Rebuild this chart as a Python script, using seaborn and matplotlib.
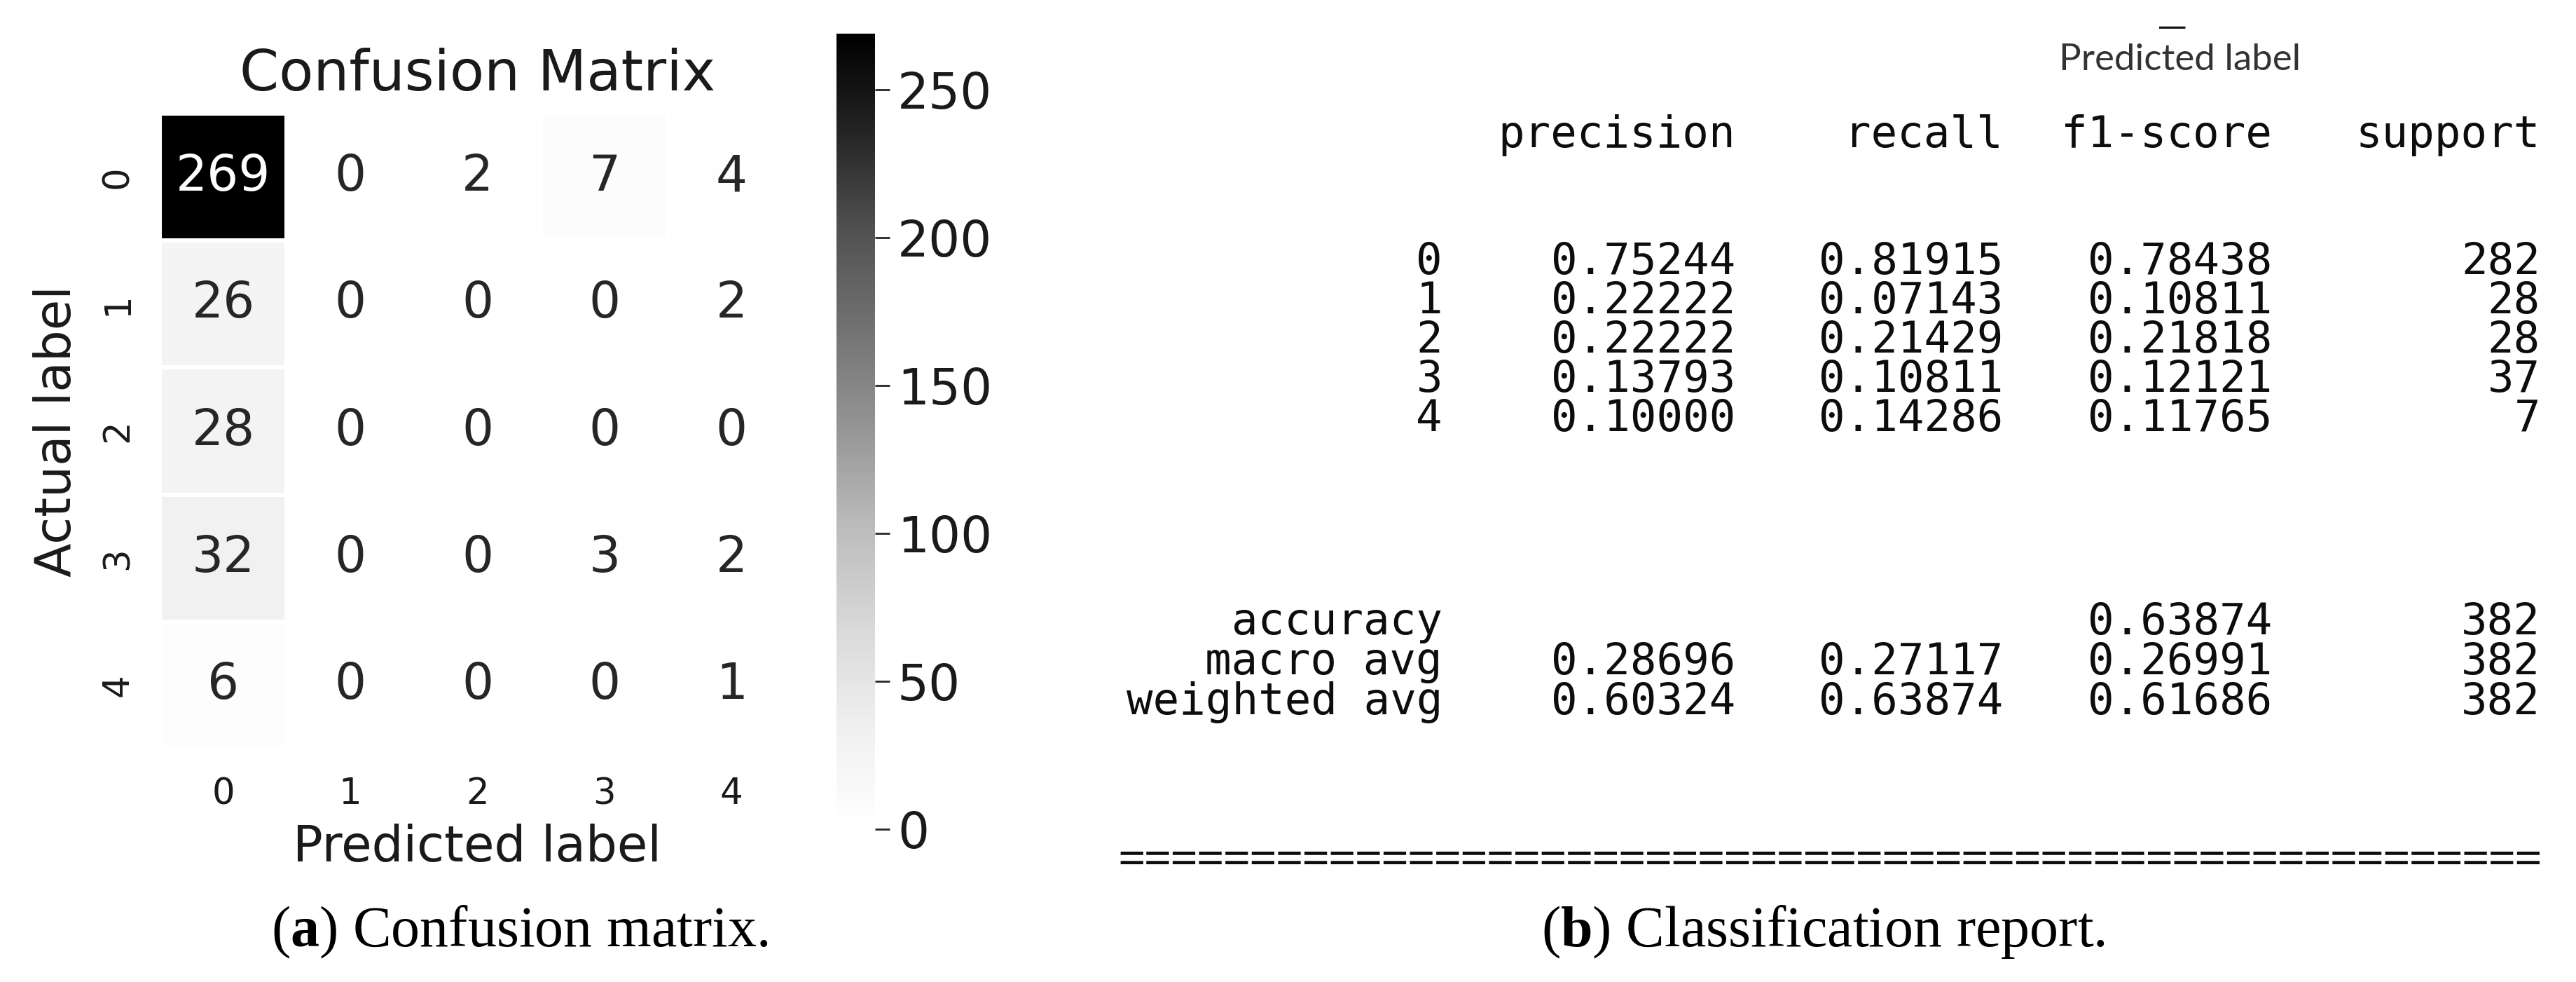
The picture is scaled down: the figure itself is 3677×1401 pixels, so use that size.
import numpy as np
import pandas as pd
import seaborn as sns
import matplotlib.pyplot as plt

sns.set_style('white')
plt.rcParams['font.family'] = ['DejaVu Sans']
plt.rcParams['mathtext.fontset'] = 'custom'
plt.rcParams['mathtext.rm'] = 'Liberation Serif'
plt.rcParams['mathtext.bf'] = 'Liberation Serif:bold'

# confusion matrix (rows = actual, cols = predicted)
labels = ['0', '1', '2', '3', '4']
cm_row0 = [269, 0, 2, 7, 4]
cm_row1 = [26, 0, 0, 0, 2]
cm_row2 = [28, 0, 0, 0, 0]
cm_row3 = [32, 0, 0, 3, 2]
cm_row4 = [6, 0, 0, 0, 1]
cbar_ticks = [0, 50, 100, 150, 200, 250]

# classification report
precision = [0.75244, 0.22222, 0.22222, 0.13793, 0.10000]
recall = [0.81915, 0.07143, 0.21429, 0.10811, 0.14286]
f1_score = [0.78438, 0.10811, 0.21818, 0.12121, 0.11765]
support = [282, 28, 28, 37, 7]
accuracy = 0.63874
total = 382
macro_avg = [0.28696, 0.27117, 0.26991]
weighted_avg = [0.60324, 0.63874, 0.61686]
headers = ['precision', 'recall', 'f1-score', 'support']

W, H = 3677, 1401
fig = plt.figure(figsize=(W / 100, H / 100), dpi=100)

# overlay in pixel units for the text report and captions
ax_txt = fig.add_axes([0, 0, 1, 1])
ax_txt.set_xlim(0, W)
ax_txt.set_ylim(H, 0)
ax_txt.axis('off')

# heatmap + colorbar boxes (pixels: left, top, right, bottom)
def box(l, t, r, b):
    return [l / W, 1 - b / H, (r - l) / W, (b - t) / H]

ax_hm = fig.add_axes(box(228, 162, 1135, 1068))
ax_cb = fig.add_axes(box(1194, 48, 1249, 1183))

cm = pd.DataFrame([cm_row0, cm_row1, cm_row2, cm_row3, cm_row4], index=labels, columns=labels)
sns.heatmap(cm, annot=True, fmt='d', cmap='Greys', linewidths=4, linecolor='white',
            ax=ax_hm, cbar_ax=ax_cb, annot_kws={'size': 51})

ax_hm.set_title('Confusion Matrix', fontsize=58, pad=24, color='.1')
ax_hm.set_xlabel('Predicted label', fontsize=51, color='.1')
ax_hm.set_ylabel('Actual label', fontsize=51, color='.1')
ax_hm.xaxis.set_label_coords(0.5, -0.118)
ax_hm.yaxis.set_label_coords(-0.124, 0.5)
ax_hm.tick_params(axis='x', length=0, labelsize=37, pad=29, labelcolor='.1')
ax_hm.tick_params(axis='y', length=0, labelsize=37, pad=25, labelcolor='.1')
plt.setp(ax_hm.get_yticklabels(), rotation=90, va='center')
plt.setp(ax_hm.get_xticklabels(), rotation=0)

cb = ax_hm.collections[0].colorbar
cb.set_ticks(cbar_ticks)
cb.outline.set_visible(False)
cb.ax.tick_params(labelsize=51, length=15, width=2, pad=8, color='.15', labelcolor='.1')

# classification report text
mono = dict(family='DejaVu Sans Mono', fontsize=45, color='.05', ha='right', va='baseline')
col_x = [2059, 2477, 2859, 3243, 3626]
header_y = 210
row_y = [391, 447, 503, 559, 615]
summary_y = [905, 962, 1019]

for x, h in zip(col_x[1:], headers):
    ax_txt.text(x, header_y, h, **mono)

for i, lab in enumerate(labels):
    vals = [lab, f'{precision[i]:.5f}', f'{recall[i]:.5f}', f'{f1_score[i]:.5f}', str(support[i])]
    for x, v in zip(col_x, vals):
        ax_txt.text(x, row_y[i], v, **mono)

summary = [
    ['accuracy', '', '', f'{accuracy:.5f}', str(total)],
    ['macro avg'] + [f'{v:.5f}' for v in macro_avg] + [str(total)],
    ['weighted avg'] + [f'{v:.5f}' for v in weighted_avg] + [str(total)],
]
for y, vals in zip(summary_y, summary):
    for x, v in zip(col_x, vals):
        ax_txt.text(x, y, v, **mono)

ax_txt.text(3628, 1244, '=' * 54, **mono)

# cropped header remnants at top of the report
ax_txt.text(3112, 100, 'Predicted label', family='Lato', fontsize=38, color='.2',
            ha='center', va='baseline')
ax_txt.text(3101, 51, '\u2014', fontsize=30, color='.1', ha='center', va='baseline')

# sub-figure captions
cap = dict(family='Liberation Serif', fontsize=59, color='black', ha='center', va='baseline')
ax_txt.text(742, 1350, r'($\mathbf{a}$) Confusion matrix.', **cap)
ax_txt.text(2603, 1350, r'($\mathbf{b}$) Classification report.', **cap)

fig.savefig('out.png', dpi=100)
